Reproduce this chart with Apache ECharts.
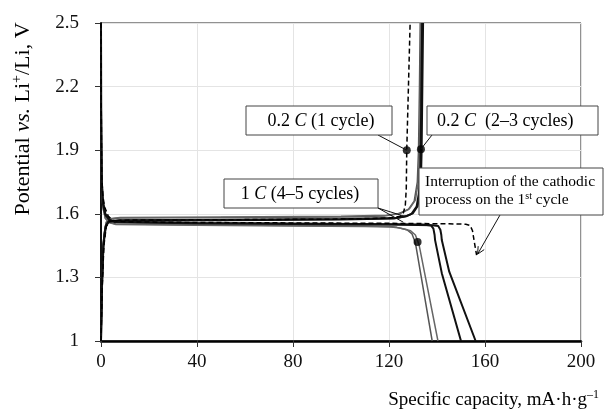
<html>
<head>
<meta charset="utf-8" />
<script src="https://cdn.jsdelivr.net/npm/echarts@6/dist/echarts.min.js"></script>
<style>
  html, body { margin: 0; padding: 0; background: #fff; }
  #main { width: 604px; height: 414px; }
</style>
</head>
<body>
<div id="main"></div>
<script type="text/javascript">
    // specific capacity (mA h/g), potential (V)
    var xTicks = [0, 40, 80, 120, 160, 200];
    var yTicks = [1, 1.3, 1.6, 1.9, 2.2, 2.5];

    // 0.2 C, 1st cycle (dashed)
    var cyc1Dis = [[0,2.5],[0.1,2.1],[0.3,1.78],[0.8,1.68],[1.6,1.63],[3,1.59],[5,1.568],[10,1.562],[40,1.559],[80,1.557],[120,1.555],[145,1.553],[152,1.551],[153.8,1.545],[154.8,1.52],[155.5,1.47],[156.5,1.405]];
    var cyc1Chg = [[0,1.0],[0.5,1.25],[1.2,1.45],[2.2,1.54],[3.5,1.565],[8,1.57],[50,1.572],[100,1.575],[120,1.58],[124.6,1.588],[126,1.605],[126.8,1.64],[127.2,1.72],[127.4,1.9],[128.1,2.2],[128.8,2.5]];
    // 0.2 C, 2-3 cycles
    var cyc2Dis = [[0,2.5],[0.05,2.1],[0.3,1.76],[0.8,1.66],[1.8,1.6],[3.5,1.572],[6,1.562],[40,1.557],[80,1.554],[120,1.551],[134,1.549],[137.5,1.545],[138.5,1.53],[139.0,1.5],[139.2,1.476],[142,1.32],[150,1.0]];
    var cyc3Dis = [[0,2.5],[0.05,2.1],[0.3,1.75],[0.8,1.65],[1.8,1.595],[3.5,1.57],[6,1.56],[40,1.555],[80,1.552],[120,1.549],[138,1.546],[140.5,1.542],[141.4,1.525],[141.8,1.5],[142,1.476],[145.1,1.327],[156.1,1.0]];
    var cyc2Chg = [[0,1.0],[0.4,1.25],[1.0,1.45],[2.0,1.54],[3.2,1.562],[8,1.567],[50,1.57],[100,1.573],[122,1.578],[127,1.588],[129.4,1.6],[131.5,1.634],[132.5,1.7],[132.9,1.76],[133.2,1.9],[133.5,2.2],[133.8,2.5]];
    var cyc3Chg = [[0,1.0],[0.4,1.26],[1.0,1.46],[2.0,1.545],[3.2,1.565],[8,1.569],[50,1.572],[100,1.575],[123,1.58],[127.5,1.59],[129.9,1.602],[131.9,1.636],[132.9,1.7],[133.3,1.76],[133.6,1.9],[133.9,2.2],[134.2,2.5]];
    // 1 C, 4-5 cycles
    var cyc4Dis = [[0,2.5],[0.05,2.0],[0.3,1.72],[0.8,1.63],[1.8,1.58],[3.5,1.56],[6,1.552],[40,1.548],[80,1.545],[110,1.542],[120,1.54],[123.3,1.536],[127.5,1.525],[129.6,1.505],[130.6,1.475],[131.2,1.45],[138,1.0]];
    var cyc5Dis = [[0,2.5],[0.05,2.0],[0.3,1.72],[0.8,1.63],[1.8,1.578],[3.5,1.558],[6,1.55],[40,1.546],[80,1.543],[110,1.54],[121,1.538],[124.5,1.533],[129,1.52],[131,1.5],[132,1.47],[132.6,1.45],[140.4,1.0]];
    var cyc4Chg = [[0,1.0],[0.5,1.3],[1.2,1.5],[2.2,1.56],[3.5,1.575],[8,1.58],[50,1.582],[100,1.585],[118,1.59],[124,1.6],[128,1.62],[130.5,1.66],[131.8,1.75],[132.3,1.9],[132.7,2.2],[133.0,2.5]];
    var cyc5Chg = [[0,1.0],[0.5,1.3],[1.2,1.5],[2.2,1.56],[3.5,1.577],[8,1.582],[50,1.585],[100,1.588],[119,1.593],[125,1.603],[128.5,1.623],[131,1.665],[132.2,1.75],[132.7,1.9],[133.1,2.2],[133.4,2.5]];

    // marked points: 0.2C 1 cycle, 0.2C 2-3 cycles, 1C discharge
    var dots = [[127.4, 1.9], [133.3, 1.905], [131.9, 1.467]];
    // where the 1C label leaders end
    var oneCLeader = [[126.5, 1.588], [126, 1.56]];
    // end of the interrupted 1st discharge
    var interruptPt = [156.5, 1.405];

    var serif = '"Liberation Serif", "Times New Roman", serif';

    function lineSeries(data, color, width, dashed) {
        return {
            type: 'line',
            data: data,
            showSymbol: false,
            symbol: 'none',
            silent: true,
            lineStyle: { color: color, width: width, type: dashed ? [5, 3] : 'solid' }
        };
    }

    var chart = echarts.init(document.getElementById('main'));
    var option = {
        animation: false,
        backgroundColor: '#fff',
        grid: {
            left: 101, right: 23, top: 23, bottom: 73,
            show: true, borderColor: '#222', borderWidth: 1,
            outerBoundsMode: 'none'
        },
        xAxis: {
            type: 'value', min: 0, max: 200, interval: 40,
            axisLine: { lineStyle: { color: '#000', width: 2.5 } },
            axisTick: { show: true, inside: false, length: 6, lineStyle: { color: '#333', width: 1 } },
            axisLabel: { fontFamily: serif, fontSize: 19, color: '#111', margin: 12 },
            splitLine: { show: true, lineStyle: { color: '#e4e4e4', width: 1 } }
        },
        yAxis: {
            type: 'value', min: 1, max: 2.5, interval: 0.3,
            axisLine: { show: true, lineStyle: { color: '#111', width: 2 } },
            axisTick: { show: true, inside: false, length: 6, lineStyle: { color: '#333', width: 1 } },
            axisLabel: {
                fontFamily: serif, fontSize: 19, color: '#111', margin: 22,
                formatter: function (v) { return String(Math.round(v * 10) / 10); }
            },
            splitLine: { show: true, lineStyle: { color: '#e4e4e4', width: 1 } }
        },
        series: [
            lineSeries(cyc4Dis, '#555', 1.5),
            lineSeries(cyc5Dis, '#666', 1.5),
            lineSeries(cyc4Chg, '#555', 1.5),
            lineSeries(cyc5Chg, '#666', 1.5),
            lineSeries(cyc2Dis, '#111', 2),
            lineSeries(cyc3Dis, '#111', 2),
            lineSeries(cyc2Chg, '#111', 2),
            lineSeries(cyc3Chg, '#111', 2),
            lineSeries(cyc1Dis, '#000', 1.5, true),
            lineSeries(cyc1Chg, '#000', 1.5, true),
            {
                type: 'scatter', data: dots, symbolSize: 8, silent: true, z: 5,
                itemStyle: { color: '#000' }
            }
        ]
    };
    chart.setOption(option);

    function px(p) { return chart.convertToPixel({ gridIndex: 0 }, p); }

    function box(x, y, w, h) {
        return {
            type: 'rect', z: 100,
            shape: { x: x, y: y, width: w, height: h },
            style: { fill: '#fff', stroke: '#444', lineWidth: 1 }
        };
    }
    function seg(a, b) {
        return {
            type: 'line', z: 99,
            shape: { x1: a[0], y1: a[1], x2: b[0], y2: b[1] },
            style: { stroke: '#111', lineWidth: 1 }
        };
    }
    var rich = {
        n: { fontFamily: serif, fontSize: 18, color: '#111' },
        i: { fontFamily: serif, fontSize: 18, color: '#111', fontStyle: 'italic' }
    };
    function label(x, y, text, align) {
        return {
            type: 'text', z: 101, x: x, y: y,
            style: {
                text: text, rich: rich,
                align: align || 'center', verticalAlign: 'middle',
                textAlign: align || 'center', textVerticalAlign: 'middle'
            }
        };
    }

    var d0 = px(dots[0]), d1 = px(dots[1]);
    var l0 = px(oneCLeader[0]), l1 = px(oneCLeader[1]);
    var ip = px(interruptPt);
    var tip = [ip[0] + 1, ip[1] - 1];
    var tail = [500, 215];
    var ang = Math.atan2(tip[1] - tail[1], tip[0] - tail[0]);
    var hl = 8, hw = 0.45;
    var h1 = [tip[0] - hl * Math.cos(ang - hw), tip[1] - hl * Math.sin(ang - hw)];
    var h2 = [tip[0] - hl * Math.cos(ang + hw), tip[1] - hl * Math.sin(ang + hw)];

    var smallRich = {
        n: { fontFamily: serif, fontSize: 15.5, color: '#111', lineHeight: 18 },
        s: { fontFamily: serif, fontSize: 10, color: '#111', lineHeight: 18, verticalAlign: 'top' }
    };
    var axisRich = {
        n: { fontFamily: serif, fontSize: 19, color: '#111', lineHeight: 22 },
        i: { fontFamily: serif, fontSize: 19, color: '#111', fontStyle: 'italic', lineHeight: 22 },
        s: { fontFamily: serif, fontSize: 12, color: '#111', lineHeight: 22, verticalAlign: 'top' }
    };
    var yRich = {
        n: { fontFamily: serif, fontSize: 22, color: '#111', lineHeight: 26 },
        i: { fontFamily: serif, fontSize: 22, color: '#111', fontStyle: 'italic', lineHeight: 26 },
        s: { fontFamily: serif, fontSize: 14, color: '#111', lineHeight: 26, verticalAlign: 'top' }
    };

    chart.setOption({
        graphic: [
            // 0.2 C (1 cycle)
            seg([378, 135], d0),
            box(246, 106, 146, 29),
            label(321, 121, '{n|0.2 }{i|C}{n| (1 cycle)}'),
            // 0.2 C (2-3 cycles)
            seg([432, 135], d1),
            box(427, 106, 171, 29),
            label(437, 121, '{n|0.2 }{i|C}{n|  (2\u20133 cycles)}', 'left'),
            // 1 C (4-5 cycles)
            seg([378, 208], l0),
            seg([378, 208], l1),
            box(224, 179, 154, 29),
            label(300, 194, '{n|1 }{i|C}{n| (4\u20135 cycles)}'),
            // interruption note
            seg(tail, tip),
            {
                type: 'polyline', z: 99,
                shape: { points: [h1, tip, h2] },
                style: { stroke: '#111', lineWidth: 1, fill: null }
            },
            box(419, 168, 184, 47),
            {
                type: 'text', z: 101, x: 425, y: 191,
                style: {
                    text: '{n|Interruption of the cathodic}\n{n|process on the 1}{s|st}{n| cycle}',
                    rich: smallRich,
                    align: 'left', verticalAlign: 'middle',
                    textAlign: 'left', textVerticalAlign: 'middle'
                }
            },
            // axis names
            {
                type: 'text', z: 101, x: 23, y: 119, rotation: Math.PI / 2,
                style: {
                    text: '{n|Potential }{i|vs.}{n| Li}{s|+}{n|/Li, V}',
                    rich: yRich,
                    align: 'center', verticalAlign: 'middle',
                    textAlign: 'center', textVerticalAlign: 'middle'
                }
            },
            {
                type: 'text', z: 101, x: 599, y: 400,
                style: {
                    text: '{n|Specific capacity, mA\u00b7h\u00b7g}{s|\u20131}',
                    rich: axisRich,
                    align: 'right', verticalAlign: 'middle',
                    textAlign: 'right', textVerticalAlign: 'middle'
                }
            }
        ]
    });
</script>
</body>
</html>
